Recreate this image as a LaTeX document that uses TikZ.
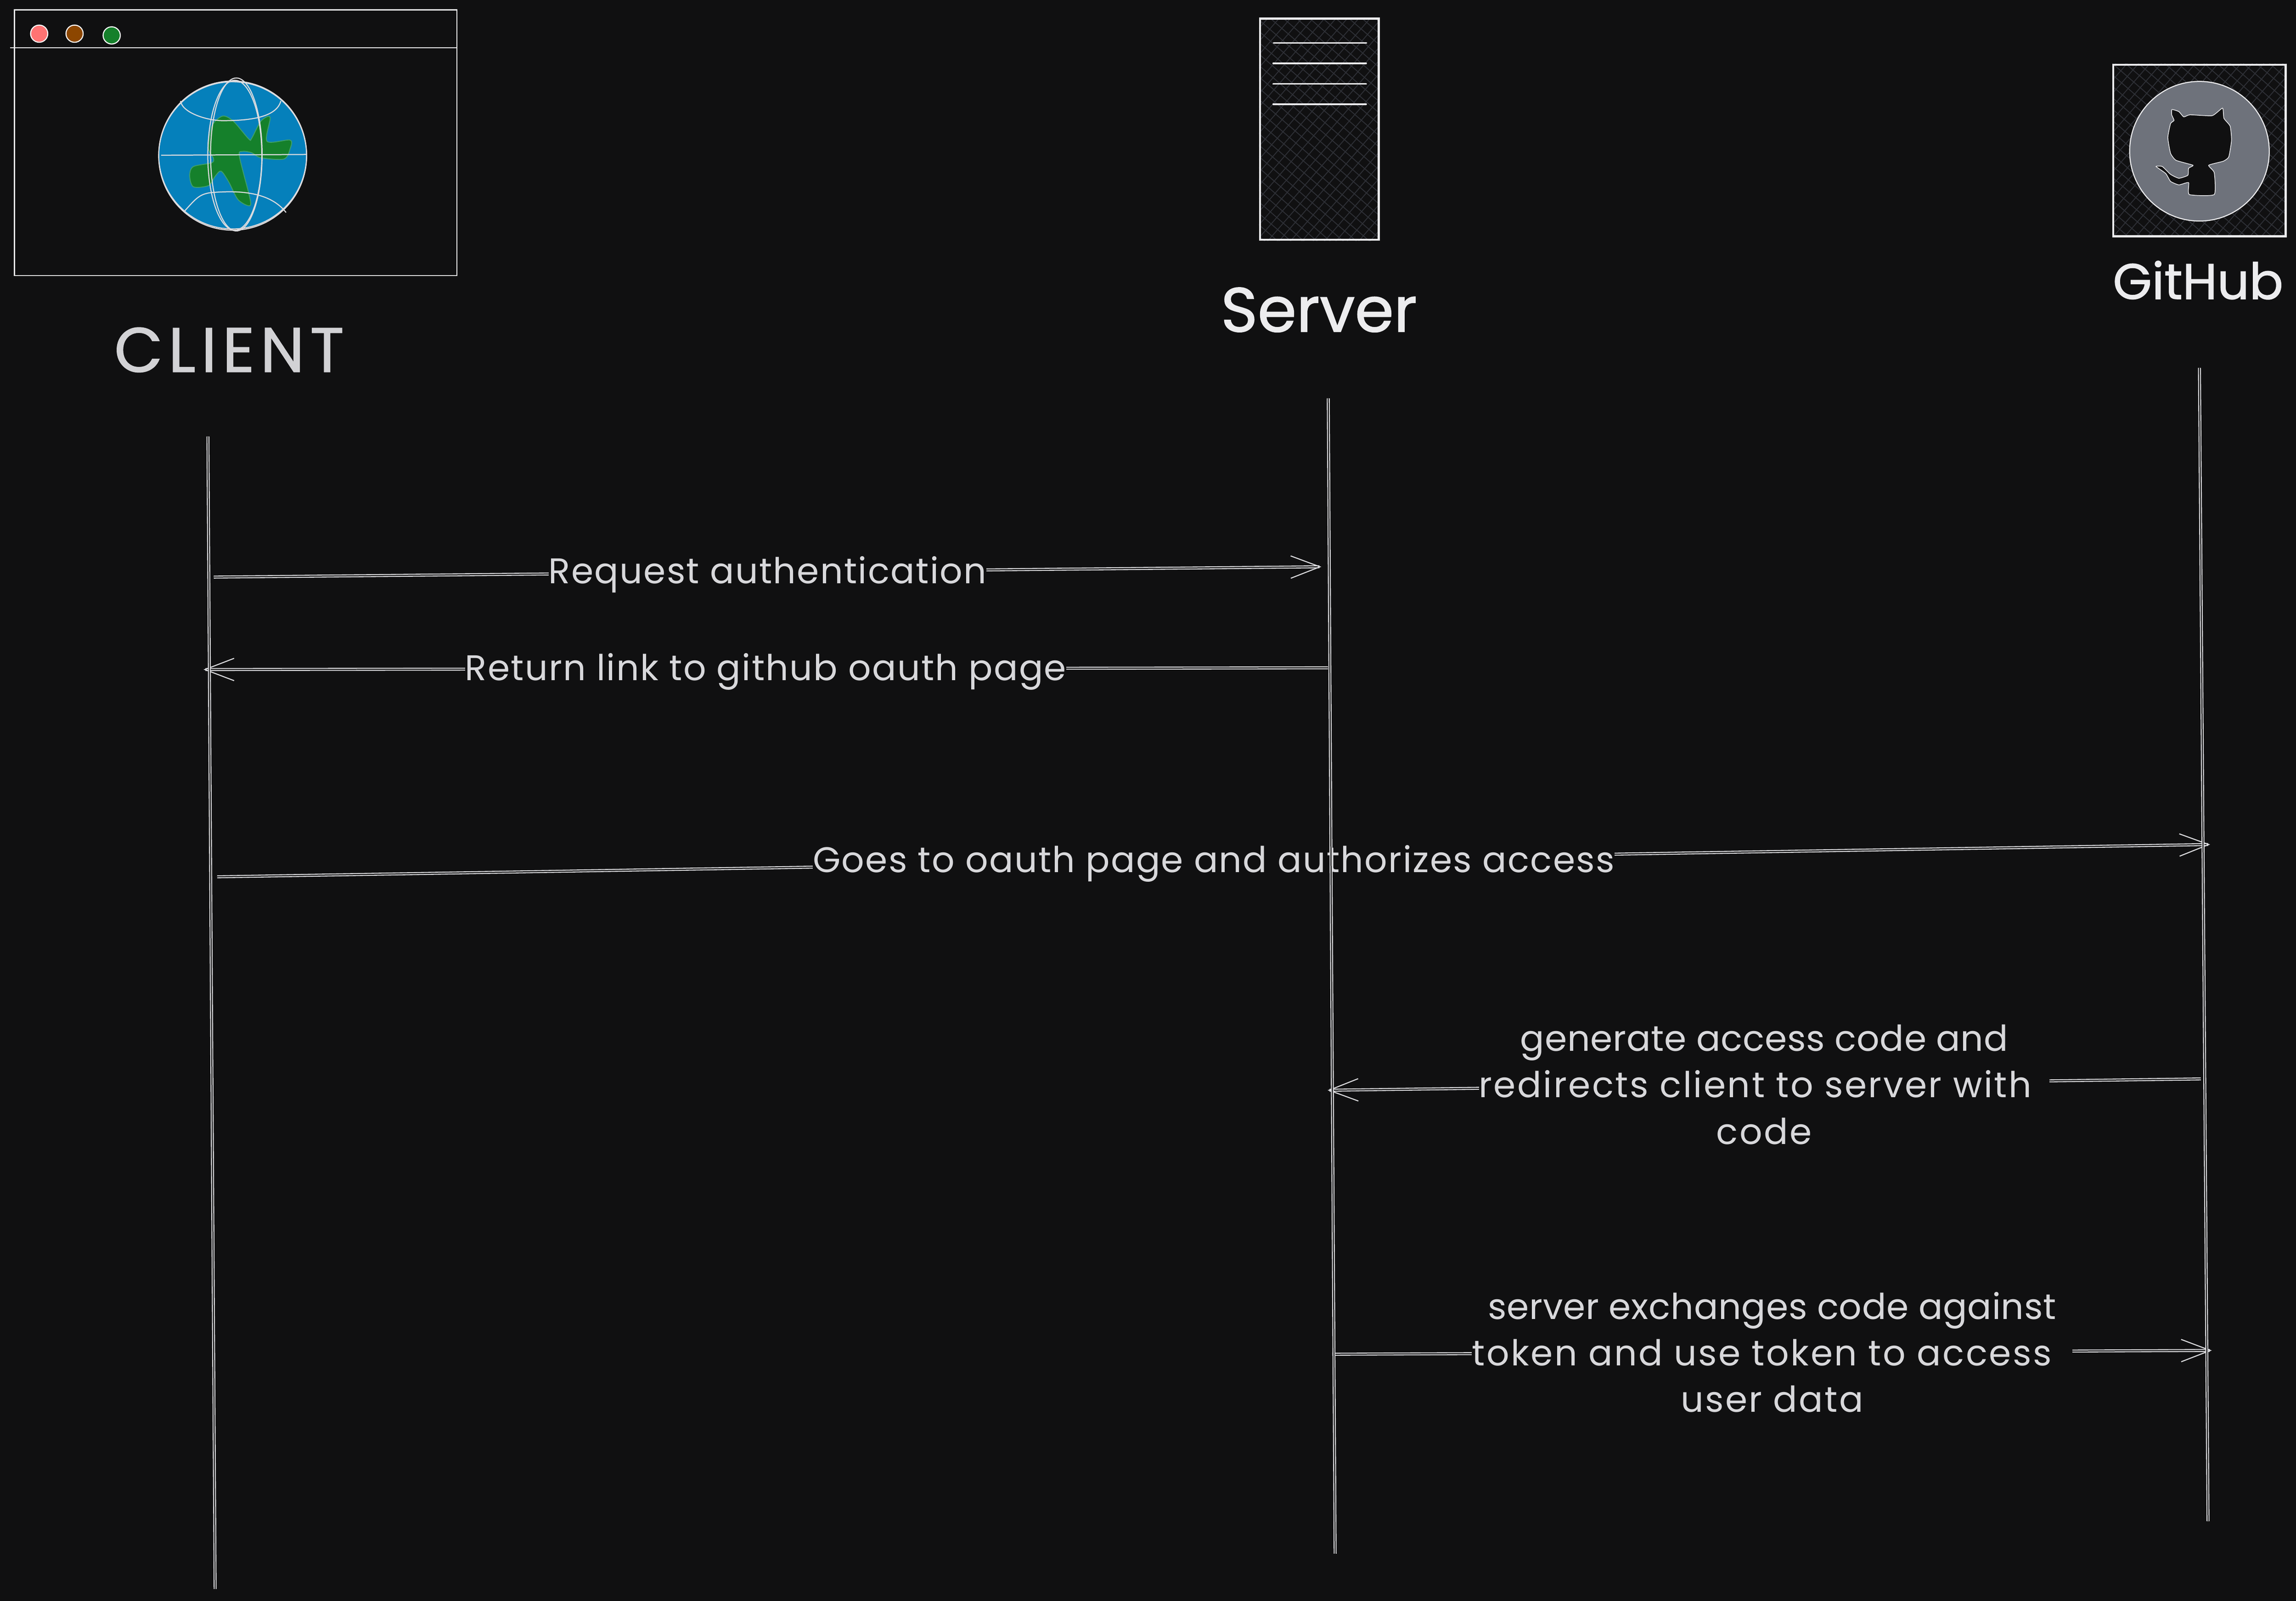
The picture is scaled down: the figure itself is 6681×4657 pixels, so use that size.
\documentclass[tikz,border=0pt]{standalone}
\usepackage{fontspec}
\setmainfont{Poppins}
\newfontfamily\msgfont{Poppins}[LetterSpace=3]
\newfontfamily\msgwidefont{Poppins}[LetterSpace=4.5]
\newfontfamily\msgtightfont{Poppins}[LetterSpace=1]
\newfontfamily\titlefont{Poppins}[FakeBold=1.2]
\newfontfamily\titlewidefont{Poppins}[FakeBold=1.2, LetterSpace=9]
\usetikzlibrary{arrows.meta}

\definecolor{canvasbg}{HTML}{101011}
\definecolor{inkline}{HTML}{DCDCDF}
\definecolor{inktext}{HTML}{D8D8DB}
\definecolor{clienttext}{HTML}{D2D2D5}
\definecolor{boxline}{HTML}{ECECEE}
\definecolor{hatchline}{HTML}{2E3036}
\definecolor{oceanblue}{HTML}{0580BB}
\definecolor{landgreen}{HTML}{15802B}
\definecolor{landline}{HTML}{3FA06A}
\definecolor{catgray}{HTML}{6E727B}

\newcommand{\hatchbox}[1]{%
    \begin{scope}
        \clip (#1.south west) rectangle (#1.north east);
        \foreach \s in {-700,-675,...,700} {
            \draw[hatch, shift={(#1.center)}, rotate=-41] (-800,\s) -- (800,\s);
            \draw[hatch, shift={(#1.center)}, rotate=49] (-800,\s) -- (800,\s);
        }
    \end{scope}
}

\begin{document}
\begin{tikzpicture}[
        x=0.01cm, y=-0.01cm,
        font=\msgfont\fontsize{29.5}{38.4}\selectfont,
        hatch/.style={draw=hatchline, line width=0.025cm},
        lifeline/.style={draw=inkline, line width=0.028cm, double=canvasbg, double distance=0.03cm},
        msg/.style={draw=inkline, line width=0.028cm, double=canvasbg, double distance=0.03cm,
            -{Straight Barb[length=0.85cm, width=0.65cm, line width=0.03cm]}},
        msglabel/.style={fill=canvasbg, text=inktext, inner sep=0pt, align=center},
        widelabel/.style={msglabel, font=\msgwidefont\fontsize{29.5}{38.4}\selectfont},
        sketchbox/.style={rectangle, draw=boxline, line width=0.06cm},
        dot/.style={circle, draw=white, line width=0.03cm, minimum size=0.5cm, inner sep=0pt},
        header/.style={anchor=base, text=boxline},
        gridline/.style={draw=inkline, line width=0.03cm}
    ]

        \path[use as bounding box] (0,0) rectangle (6681,4657);
        \fill[canvasbg] (-30,-30) rectangle (6711,4687);

        % Client window
        \node[rectangle, draw=boxline, line width=0.03cm, minimum width=12.87cm, minimum height=7.72cm] (window) at (686,415) {};
        \coordinate (barLeft) at (29,139);
        \coordinate (barRight) at (1330,139);
        \draw[draw=boxline, line width=0.035cm] (barLeft) -- (barRight);
        \node[dot, fill=red!55!white] (dotRed) at (114,98) {};
        \node[dot, fill=orange!55!black] (dotBrown) at (217,98) {};
        \node[dot, fill=landgreen] (dotGreen) at (325,103) {};

        % Globe
        \node[circle, fill=oceanblue, draw=inkline, line width=0.03cm, minimum size=4.3cm, inner sep=0pt] (globe) at (677,451) {};
        \begin{scope}[x=0.00893cm, y=-0.00734cm]
            \draw[fill=landgreen, draw=landline, line width=0.025cm] plot[smooth cycle, tension=0.5] coordinates {
                (690,500) (725,460) (760,480) (810,550) (820,548) (850,480) (880,465) (870,560)
                (945,555) (945,590) (925,630) (850,625) (820,605) (790,600) (780,620) (815,790)
                (810,815) (775,790) (745,720) (720,678) (700,700) (680,735) (630,740) (618,695)
                (630,660) (690,645) (695,625) (680,590)};
            \draw[gridline] (765,615) ellipse [x radius=88, y radius=297];
            \draw[gridline] (770,612) ellipse [x radius=84, y radius=303];
            \draw[gridline] (758,618) ellipse [x radius=241, y radius=294];
            \draw[gridline] (588,400) .. controls (595,450) and (680,478) .. (725,478)
                .. controls (800,478) and (900,470) .. (915,400);
            \draw[gridline] (600,838) .. controls (640,785) and (650,765) .. (700,762)
                .. controls (780,755) and (880,760) .. (932,842);
            \draw[gridline] (525,615) -- (1000,612);
        \end{scope}

        % Server
        \node[sketchbox, minimum width=3.45cm, minimum height=6.43cm] (server) at (3839,376) {};
        \hatchbox{server}
        \node[sketchbox, minimum width=3.45cm, minimum height=6.43cm] at (server.center) {};
        \foreach \y/\x in {125/3706, 184/3705, 244/3705, 303/3705} {
            \draw[draw=boxline, line width=0.05cm, line cap=round] (\x,\y) -- ++(270,0);
        }

        % GitHub
        \node[sketchbox, minimum width=5.01cm, minimum height=4.99cm] (github) at (6400,438) {};
        \hatchbox{github}
        \node[sketchbox, minimum width=5.01cm, minimum height=4.99cm] at (github.center) {};
        \node[circle, fill=catgray, draw=boxline, line width=0.03cm, minimum size=4.06cm, inner sep=0pt] (octo) at (6400,440) {};
        \begin{scope}[shift={(6050,130)}, x=0.004024cm, y=-0.0051cm]
            \draw[fill=canvasbg, draw=boxline, line width=0.02cm] plot[smooth cycle, tension=0.3] coordinates {
                (670,370) (720,382) (755,412) (800,400) (960,405) (1035,362) (1045,420) (1090,465)
                (1100,545) (1080,640) (1040,665) (935,688) (975,730) (975,855) (795,855) (790,787)
                (720,800) (660,780) (625,735) (555,695) (600,695) (660,740) (720,762) (785,745)
                (790,705) (822,688) (700,660) (660,620) (640,530) (660,450) (685,432) (668,400)};
        \end{scope}

        % Titres
        \node[header, text=clienttext, font=\titlewidefont\fontsize{52}{60}\selectfont] (clientTitle) at (667,1082) {CLIENT};
        \node[header, font=\titlefont\fontsize{51.8}{60}\selectfont] (serverTitle) at (3838,965) {Server};
        \node[header, font=\titlefont\fontsize{41.5}{50}\selectfont] (githubTitle) at (6396,870) {GitHub};

        % Extremites
        \coordinate (clientTop) at (605,1270);
        \coordinate (clientBottom) at (626,4623);
        \coordinate (serverTop) at (3865,1159);
        \coordinate (serverBottom) at (3885,4520);
        \coordinate (githubTop) at (6400,1070);
        \coordinate (githubBottom) at (6425,4426);

        \coordinate (m1from) at (622,1679);
        \coordinate (m1to) at (3845,1649);
        \coordinate (m2from) at (3864,1943);
        \coordinate (m2to) at (592,1948);
        \coordinate (m3from) at (632,2551);
        \coordinate (m3to) at (6431,2457);
        \coordinate (m4from) at (6404,3139);
        \coordinate (m4to) at (3863,3172);
        \coordinate (m5from) at (3877,3940);
        \coordinate (m5to) at (6436,3929);

        % Messages
        \draw[msg] (m1from) -- node[msglabel, yshift=-0.08cm] (m1label) {Request authentication} (m1to);
        \draw[msg] (m2from) -- node[msglabel, yshift=-0.08cm] (m2label) {Return link to github oauth page} (m2to);
        \draw[msg] (m3from) -- node[msglabel, yshift=-0.08cm] (m3label) {Goes to oauth page and authorizes access} (m3to);
        \draw[msg] (m4from) -- node[widelabel] (m4label) {{\msgtightfont generate access code and}\\\mbox{redirects client to server with\hspace{0.52cm}}\\code} (m4to);
        \draw[msg] (m5from) -- node[widelabel] (m5label) {{\msgtightfont server exchanges code against}\\\mbox{token and use token to access\hspace{0.6cm}}\\user data} (m5to);

        % Lignes de vie
        \draw[lifeline] (clientTop) -- (clientBottom);
        \draw[lifeline] (serverTop) -- (serverBottom);
        \draw[lifeline] (githubTop) -- (githubBottom);

    \end{tikzpicture}
\end{document}
